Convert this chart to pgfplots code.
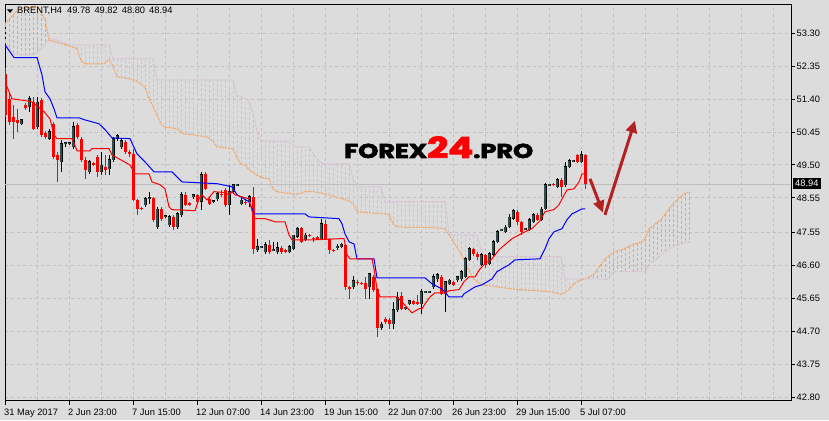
\documentclass[border=0pt]{standalone}
\usepackage{pgfplots}
\pgfplotsset{compat=1.18}
\usepackage{pgfplotstable}
\usetikzlibrary{arrows.meta}
\usepackage{fontspec}
\setmainfont{Liberation Sans}
\newfontfamily\logofont{Poppins}[BoldFeatures={FakeBold=3}]
\definecolor{bg}{HTML}{DCDCDC}
\definecolor{gridc}{HTML}{C2BEC2}
\definecolor{bull}{HTML}{2F4F4F}
\definecolor{sandy}{HTML}{F4A460}
\definecolor{thist}{HTML}{D8BFD8}
\definecolor{arrowred}{HTML}{B22222}
\definecolor{bidline}{HTML}{BEBEBE}

\pgfplotstableread{
x o h l c
4 50.69 50.83 50.66 50.81
6 51.18 51.50 51.04 51.41
8 50.60 51.47 50.55 51.32
11 50.26 50.55 50.23 50.46
14 49.59 50.23 49.30 50.11
15 50.11 50.17 50.02 50.14
16 50.11 50.14 50.08 50.14
17 50.02 50.75 49.97 50.60
21 49.30 49.65 49.24 49.59
24 49.30 49.88 49.22 49.50
26 49.39 49.79 49.22 49.65
27 49.65 50.31 49.59 50.26
28 50.26 50.40 50.20 50.34
29 50.02 50.26 49.97 50.20
35 48.35 48.58 48.29 48.52
36 48.55 48.73 48.38 48.55
38 47.71 48.29 47.66 48.23
40 48.03 48.06 47.97 48.03
41 47.77 48.06 47.71 48.00
43 47.71 48.15 47.66 48.09
44 48.06 48.73 48.00 48.64
47 48.58 48.67 48.52 48.64
49 48.44 49.30 48.21 49.22
52 48.46 48.49 48.41 48.46
53 48.52 48.73 48.46 48.67
56 48.35 48.93 48.06 48.73
57 48.73 48.96 48.67 48.93
58 48.93 48.96 48.90 48.93
59 48.38 48.55 48.35 48.49
61 48.44 48.64 48.29 48.58
63 47.05 47.37 46.99 47.14
64 47.14 47.17 47.11 47.14
65 46.99 47.28 46.94 47.20
67 47.05 47.28 47.02 47.05
68 46.99 47.28 46.94 47.11
71 46.99 47.20 46.96 47.14
72 47.08 47.48 47.05 47.48
73 47.43 47.71 47.40 47.66
75 47.34 47.54 47.31 47.48
79 47.37 47.95 47.34 47.80
83 47.14 47.22 47.05 47.14
84 47.14 47.25 47.11 47.22
87 45.98 46.30 45.92 46.16
91 45.98 46.39 45.64 46.36
94 44.80 44.97 44.74 44.91
97 44.91 45.55 44.77 45.32
98 45.32 45.84 45.26 45.69
100 45.38 45.41 45.32 45.38
101 45.49 45.61 45.46 45.58
104 45.49 45.92 45.20 45.84
105 45.84 45.87 45.81 45.84
106 45.84 45.87 45.81 45.84
107 45.98 46.36 45.92 46.27
108 46.21 46.39 46.13 46.33
110 45.78 46.16 45.26 46.13
111 46.07 46.21 46.04 46.18
113 46.18 46.30 46.13 46.27
114 46.21 46.47 46.16 46.42
115 46.27 46.85 46.24 46.79
116 46.76 47.14 46.73 47.08
119 46.62 46.96 46.59 46.91
121 46.65 46.99 46.62 46.94
122 46.91 47.34 46.88 47.28
123 47.28 47.63 47.25 47.57
124 47.63 47.66 47.60 47.63
125 47.57 47.77 47.54 47.71
126 47.71 48.09 47.69 48.00
127 47.95 48.23 47.92 48.18
130 47.66 47.69 47.63 47.66
131 47.63 47.97 47.60 47.92
132 47.86 48.12 47.83 48.06
134 47.92 48.29 47.89 48.23
135 48.23 48.99 48.21 48.93
136 48.93 48.96 48.90 48.93
138 48.87 49.13 48.84 49.07
140 48.93 49.59 48.87 49.45
141 49.45 49.68 49.42 49.62
142 49.62 49.65 49.59 49.62
144 49.59 49.91 49.56 49.79
}\upbars

\pgfplotstableread{
x o h l c
0 52.13 52.30 50.89 50.95
1 51.41 51.61 50.66 50.75
2 50.89 51.24 50.26 50.75
3 50.81 51.12 50.46 50.72
5 51.24 51.30 51.09 51.15
7 51.32 51.47 50.52 50.55
9 51.38 51.44 50.31 50.37
10 50.43 50.49 50.26 50.31
12 50.69 50.75 49.68 49.74
13 49.79 49.88 49.01 49.65
18 50.66 50.72 50.26 50.31
19 50.26 50.31 49.59 49.65
20 49.65 49.74 49.10 49.36
22 49.56 49.59 49.47 49.50
23 49.74 49.79 49.16 49.30
25 49.45 49.79 49.22 49.36
30 50.17 50.23 49.82 49.88
31 49.88 49.94 49.74 49.82
32 49.82 49.97 48.46 48.49
33 48.49 48.52 48.06 48.23
34 48.26 48.29 48.20 48.23
37 48.55 48.58 47.86 47.92
39 48.23 48.29 47.89 47.95
42 48.00 48.06 47.63 47.71
45 48.64 48.73 48.32 48.35
46 48.41 48.44 48.32 48.35
48 48.64 48.67 48.41 48.44
50 49.24 49.30 48.78 48.81
51 48.52 48.58 48.35 48.38
54 48.67 48.78 48.58 48.64
55 48.78 48.84 48.29 48.35
60 48.44 48.52 48.35 48.41
62 48.58 48.87 46.94 47.08
66 47.20 47.34 46.94 46.99
69 47.11 47.17 46.94 46.99
70 47.05 47.08 46.96 46.99
74 47.69 47.71 47.25 47.28
76 47.48 47.51 47.43 47.46
77 47.40 47.43 47.28 47.37
78 47.43 47.46 47.34 47.37
80 47.80 47.92 47.34 47.37
81 47.37 47.40 46.94 47.05
82 47.05 47.08 46.99 47.02
85 47.20 47.22 45.90 45.98
86 45.98 46.01 45.64 45.92
88 46.13 46.18 46.04 46.10
89 46.10 46.13 46.04 46.07
90 46.10 46.27 45.64 45.92
92 46.27 46.33 45.84 45.90
93 45.92 45.95 44.54 44.80
95 45.06 45.12 44.91 44.97
96 45.03 45.09 44.77 44.91
99 45.72 45.84 45.32 45.35
102 45.58 45.61 45.46 45.49
103 45.55 45.75 45.46 45.49
109 46.27 46.33 45.75 45.78
112 46.13 46.16 46.01 46.04
117 47.08 47.11 46.88 46.94
118 46.94 46.99 46.76 46.85
120 46.91 46.94 46.53 46.62
128 48.15 48.21 47.77 47.86
129 47.86 47.89 47.48 47.57
133 48.06 48.12 47.89 47.92
137 48.96 48.99 48.90 48.93
139 49.07 49.13 48.58 48.87
143 49.79 49.82 49.56 49.59
145 49.78 49.82 48.80 48.94
}\downbars

% Senkou span A (a) and B (b), one row per bar
\pgfplotstableread{
x a b
0 53.58 53.06
1 53.70 52.89
2 53.83 52.72
3 53.95 52.68
4 54.02 52.68
5 54.03 52.68
6 54.04 52.68
7 54.06 52.68
8 54.07 52.74
9 53.90 52.86
10 53.72 52.97
11 53.10 53.13
12 53.07 53.13
13 53.04 53.11
14 53.01 53.06
15 52.97 53.02
16 52.93 52.97
17 52.90 52.97
18 52.86 52.97
19 52.51 52.97
20 52.42 52.97
21 52.42 52.97
22 52.42 52.97
23 52.42 52.97
24 52.42 52.97
25 52.44 52.97
26 52.55 52.97
27 52.34 52.57
28 52.05 52.57
29 52.03 52.57
30 52.01 52.57
31 51.99 52.57
32 51.97 52.57
33 51.92 52.57
34 51.83 52.57
35 51.75 52.57
36 51.41 52.57
37 51.18 52.57
38 50.94 51.96
39 50.68 51.96
40 50.59 51.96
41 50.58 51.96
42 50.56 51.96
43 50.55 51.96
44 50.45 51.96
45 50.39 51.96
46 50.38 51.96
47 50.37 51.96
48 50.35 51.96
49 50.33 51.96
50 50.32 51.96
51 50.28 51.96
52 50.18 51.96
53 50.02 51.96
54 50.01 51.96
55 50.00 51.96
56 49.98 51.96
57 49.97 51.96
58 49.71 51.53
59 49.52 51.47
60 49.50 51.41
61 49.36 51.36
62 49.28 51.00
63 49.20 50.46
64 49.15 50.20
65 49.12 50.20
66 49.10 50.19
67 48.80 50.19
68 48.72 50.18
69 48.71 50.18
70 48.69 50.18
71 48.68 50.17
72 48.66 50.07
73 48.65 50.02
74 48.68 50.02
75 48.73 50.02
76 48.73 50.02
77 48.73 49.85
78 48.71 49.68
79 48.69 49.56
80 48.66 49.53
81 48.63 49.53
82 48.60 49.53
83 48.56 49.53
84 48.53 49.53
85 48.50 49.53
86 48.46 49.53
87 48.39 49.09
88 48.15 48.87
89 48.14 48.87
90 48.13 48.87
91 48.12 48.87
92 48.11 48.87
93 48.10 48.87
94 48.09 48.87
95 48.08 48.44
96 48.07 48.44
97 47.80 48.44
98 47.71 48.44
99 47.71 48.44
100 47.70 48.44
101 47.70 48.44
102 47.70 48.44
103 47.70 48.44
104 47.70 48.44
105 47.69 48.44
106 47.69 48.44
107 47.69 48.44
108 47.68 48.44
109 47.67 48.44
110 47.66 48.44
111 47.48 47.51
112 47.30 47.48
113 47.12 47.48
114 46.93 47.48
115 46.69 47.48
116 46.45 47.48
117 46.22 47.48
118 46.13 47.48
119 46.04 47.06
120 46.03 46.85
121 46.01 46.85
122 46.00 46.85
123 45.98 46.85
124 45.96 46.85
125 45.95 46.85
126 45.93 46.85
127 45.92 46.85
128 45.91 46.85
129 45.90 46.85
130 45.89 46.85
131 45.88 46.85
132 45.88 46.85
133 45.87 46.85
134 45.86 46.85
135 45.85 46.85
136 45.84 46.85
137 45.83 46.85
138 45.79 46.85
139 45.76 46.85
140 45.82 46.21
141 45.90 46.21
142 46.04 46.21
143 46.12 46.21
144 46.19 46.21
145 46.21 46.21
146 46.27 46.21
147 46.32 46.21
148 46.47 46.21
149 46.64 46.21
150 46.79 46.21
151 46.88 46.21
152 46.97 46.42
153 47.02 46.42
154 47.05 46.42
155 47.09 46.42
156 47.15 46.42
157 47.21 46.42
158 47.24 46.42
159 47.27 46.42
160 47.36 46.42
161 47.66 46.62
162 47.73 46.71
163 47.84 46.80
164 47.93 46.90
165 48.07 46.99
166 48.23 47.08
167 48.38 47.13
168 48.49 47.18
169 48.59 47.22
170 48.68 47.25
171 48.73 47.28
}\kumo

\begin{document}
\begin{tikzpicture}[x=1pt,y=1pt]
\fill[bg] (-3,-21) rectangle (826,399);
\begin{axis}[
  at={(0.5,-0.5)}, anchor=south west, scale only axis,
  width=786pt, height=396pt,
  xmin=0, xmax=196.5, ymin=42.693, ymax=54.126,
  axis line style={black, line width=1pt},
  xtick pos=left, ytick pos=right,
  tick align=outside,
  major tick length=4pt, minor tick length=0pt,
  tick style={black, line width=1pt},
  xtick={0,16,...,144},
  xticklabels={31 May 2017,2 Jun 23:00,7 Jun 15:00,12 Jun 07:00,14 Jun 23:00,19 Jun 15:00,22 Jun 07:00,26 Jun 23:00,29 Jun 15:00,5 Jul 07:00},
  minor xtick={8,24,...,136,152,160,168,176,184,192},
  ytick={42.80,43.75,44.70,45.65,46.60,47.55,48.55,49.50,50.45,51.40,52.35,53.30},
  yticklabels={42.80,43.75,44.70,45.65,46.60,47.55,48.55,49.50,50.45,51.40,52.35,53.30},
  grid=both,
  major grid style={gridc, line width=1pt, dash pattern=on 3pt off 3pt},
  minor grid style={gridc, line width=1pt, dash pattern=on 3pt off 3pt},
  ticklabel style={font=\fontsize{9.3}{11}\selectfont, inner sep=0pt},
  xticklabel style={anchor=north west, xshift=-1pt, yshift=-4pt},
  yticklabel style={anchor=west, xshift=1.5pt},
]
% Kumo hatching: one dashed vertical segment per bar from span A to span B
\addplot[sandy, line width=1pt, dash pattern=on 3pt off 2pt, restrict x to domain=0:10,
  quiver={u=0, v=\thisrow{b}-\thisrow{a}}] table[x=x, y=a] {\kumo};
\addplot[thist, line width=1pt, dash pattern=on 3pt off 2pt, restrict x to domain=11:145,
  quiver={u=0, v=\thisrow{b}-\thisrow{a}}] table[x=x, y=a] {\kumo};
\addplot[sandy, line width=1pt, dash pattern=on 3pt off 2pt, restrict x to domain=146:171,
  quiver={u=0, v=\thisrow{b}-\thisrow{a}}] table[x=x, y=a] {\kumo};
% span lines
\addplot[sandy, line width=1pt, dash pattern=on 2pt off 1pt] table[x=x, y=a] {\kumo};
\addplot[thist, line width=1pt, dash pattern=on 2pt off 1pt] table[x=x, y=b] {\kumo};

% bid line
\draw[bidline, line width=1pt] (axis cs:0,48.94) -- (axis cs:196.5,48.94);

% candles: wicks
\addplot[draw=none, mark=none, error bars/.cd, y dir=both, y explicit, error mark=none,
  error bar style={draw=black, solid, line width=1pt}]
  table[x=x, y expr=(\thisrow{h}+\thisrow{l})/2, y error expr=(\thisrow{h}-\thisrow{l})/2] {\upbars};
\addplot[draw=none, mark=none, error bars/.cd, y dir=both, y explicit, error mark=none,
  error bar style={draw=red, solid, line width=1pt}]
  table[x=x, y expr=(\thisrow{h}+\thisrow{l})/2, y error expr=(\thisrow{h}-\thisrow{l})/2] {\downbars};
% candles: bodies
\addplot[draw=none, mark=none, error bars/.cd, y dir=both, y explicit, error mark=none,
  error bar style={draw=black, solid, line width=3pt}]
  table[x=x, y expr=(\thisrow{o}+\thisrow{c})/2, y error expr={max(abs(\thisrow{c}-\thisrow{o})/2,0.0145)+0.012}] {\upbars};
\addplot[draw=none, mark=none, error bars/.cd, y dir=both, y explicit, error mark=none,
  error bar style={draw=bull, solid, line width=1.4pt}]
  table[x=x, y expr=(\thisrow{o}+\thisrow{c})/2, y error expr={max(abs(\thisrow{c}-\thisrow{o})/2,0.0145)-0.005}] {\upbars};
\addplot[draw=none, mark=none, error bars/.cd, y dir=both, y explicit, error mark=none,
  error bar style={draw=red, solid, line width=3pt}]
  table[x=x, y expr=(\thisrow{o}+\thisrow{c})/2, y error expr={max(abs(\thisrow{c}-\thisrow{o})/2,0.0145)}] {\downbars};

% Kijun-sen (blue)
\addplot[blue, line width=1pt] coordinates {
(0,52.97) (2.25,52.60) (8,52.60) (9.25,52.10) (10,51.61) (11.25,51.41) (12.25,51.12) (13,50.86)
(18.5,50.86) (20,50.80) (23.5,50.69) (25,50.52) (26.75,50.28) (31.25,50.26) (33,49.82) (35,49.59)
(37.25,49.30) (41.75,49.30) (44.25,49.01) (53,48.96) (56.75,48.87) (58,48.64) (61,48.44) (62.25,48.09)
(75,48.09) (76,48.00) (83.5,47.95) (84.25,47.80) (85,47.51) (86,47.28) (87.25,47.22) (88,46.79)
(92.25,46.79) (93,46.24) (105,46.24) (106.75,46.07) (109.25,45.92) (111,45.69) (114.25,45.69)
(114.75,45.78) (117.5,45.98) (119.25,46.04) (121.75,46.21) (123,46.42) (126,46.62) (127.5,46.76)
(133.75,46.79) (135,47.08) (136,47.37) (137.25,47.57) (139.25,47.66) (140.5,47.92) (141.75,48.09)
(144.25,48.23) (145,48.23)};
% Tenkan-sen (red)
\addplot[red, line width=1pt] coordinates {
(0,51.90) (1.75,51.41) (5.5,51.35) (6.75,51.32) (9.75,51.04) (11.25,50.83) (12.25,50.37) (13,50.26)
(16.75,50.26) (18,49.91) (21.25,49.91) (21.75,49.97) (26,49.97) (26.75,49.79) (31.25,49.50) (32.5,49.24)
(36,49.24) (36.75,49.01) (38.75,48.93) (40,48.81) (41,48.29) (41.75,48.21) (47.5,48.18) (48.5,48.52)
(49.25,48.64) (50.5,48.49) (52.25,48.73) (55,48.70) (56,48.64) (56.75,48.73) (57.5,48.64) (59.25,48.58)
(61,48.52) (62.25,47.95) (65,47.95) (67.5,47.86) (70,47.86) (71,47.48) (71.75,47.34) (77.5,47.34)
(83.5,47.37) (84.75,47.37) (85.5,46.91) (86.25,46.79) (91.75,46.79) (92.25,46.50) (93,45.92) (93.75,45.69)
(98,45.69) (99.25,45.55) (101,45.32) (101.75,45.23) (103.5,45.35) (104.25,45.35) (105,45.49) (106.25,45.69)
(107.5,45.81) (110,45.81) (111,45.87) (113.5,45.90) (114.75,46.13) (116,46.27) (117.5,46.27) (118.75,46.50)
(120,46.65) (121.75,46.79) (123.5,47.05) (125,47.20) (126.75,47.37) (128.5,47.48) (130,47.57) (131.75,47.66)
(133.75,47.89) (135,48.15) (137.25,48.21) (138.5,48.35) (139.25,48.52) (140.5,48.78) (142.25,48.81)
(143.5,49.01) (144.25,49.24) (145,49.24)};

% arrows
\draw[arrowred, line width=3pt, -{Triangle[length=12pt,width=11pt]}] (axis cs:146.25,49.10) -- (axis cs:149.5,48.12);
\draw[arrowred, line width=3pt, -{Triangle[length=12pt,width=11pt]}] (axis cs:150,48.06) -- (axis cs:157.5,50.78);
\end{axis}
% current price box
\node[fill=black, text=white, anchor=west, inner xsep=2.5pt, inner ysep=2.2pt,
  font=\fontsize{9.3}{11}\selectfont] at (789.5,215.9) {48.94};
% title
\fill[black] (4,389.5) -- (10,389.5) -- (7,386) -- cycle;
\node[anchor=base west, inner sep=0pt, font=\fontsize{9.3}{11}\selectfont] at (14,385) {BRENT,H4\hspace{5pt}49.78\hspace{1.5pt} 49.82\hspace{1.5pt} 48.80\hspace{1.5pt} 48.94};
% watermark
\node[anchor=base west, inner sep=0pt] at (341,241) {\resizebox{189pt}{21.6pt}{\logofont\bfseries\fontsize{20}{24}\selectfont FOREX{\color{red}\fontsize{28.8}{30}\selectfont 24}.PRO}};
\pgfresetboundingbox
\path[use as bounding box] (-3,-21) rectangle (826,399);
\end{tikzpicture}
\end{document}
